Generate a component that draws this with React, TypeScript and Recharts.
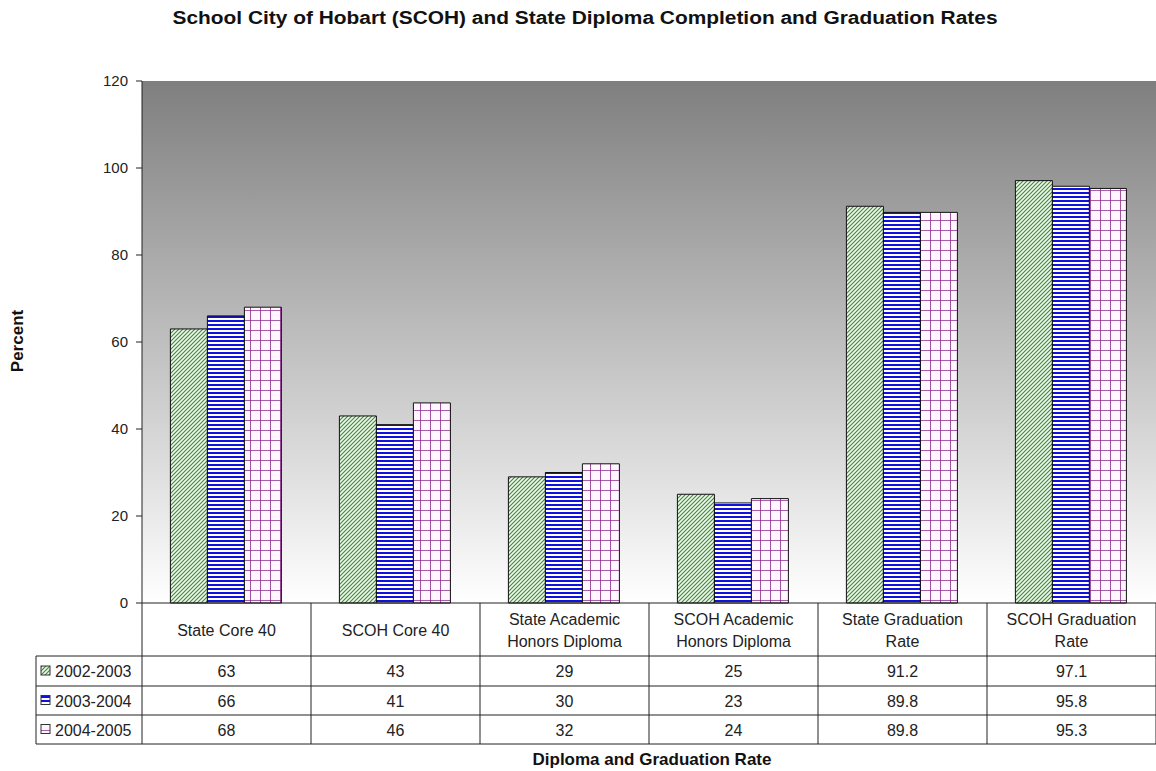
import { BarChart, Bar, XAxis, YAxis, CartesianGrid } from "recharts"

const categories = [
  "State Core 40",
  "SCOH Core 40",
  "State Academic Honors Diploma",
  "SCOH Academic Honors Diploma",
  "State Graduation Rate",
  "SCOH Graduation Rate",
]

// how the header cells wrap
const headerLines = [
  ["State Core 40"],
  ["SCOH Core 40"],
  ["State Academic", "Honors Diploma"],
  ["SCOH Academic", "Honors Diploma"],
  ["State Graduation", "Rate"],
  ["SCOH Graduation", "Rate"],
]

const years = ["2002-2003", "2003-2004", "2004-2005"]
const values2002 = [63, 43, 29, 25, 91.2, 97.1]
const values2003 = [66, 41, 30, 23, 89.8, 95.8]
const values2004 = [68, 46, 32, 24, 89.8, 95.3]
const yTicks = [0, 20, 40, 60, 80, 100, 120]

const seriesValues = [values2002, values2003, values2004]
const seriesFills = ["url(#hatchGreen)", "url(#stripeBlue)", "url(#gridPurple)"]

const data = categories.map((name, i) => ({
  name,
  y2002: values2002[i],
  y2003: values2003[i],
  y2004: values2004[i],
}))

const W = 1156
const H = 771
const plotLeft = 142
const plotTop = 81
const plotBottom = 603
const bandW = (W - plotLeft) / categories.length
const rowLines = [656, 686, 715, 744]
const font = "'Liberation Sans', Arial, sans-serif"
const textColor = "#222"

const TableColumn = (props: any) => {
  const { x, payload, index } = props
  const lines = headerLines[index] || [payload.value]
  const left = x - bandW / 2
  const right = x + bandW / 2
  const headerMid = (plotBottom + rowLines[0]) / 2
  return (
    <g fontFamily={font} fontSize={16} fill={textColor}>
      {lines.map((l: string, k: number) => (
        <text
          key={k}
          x={x}
          y={headerMid + (k - (lines.length - 1) / 2) * 22 + 6}
          textAnchor="middle"
        >
          {l}
        </text>
      ))}
      {rowLines.map((ry) => (
        <line key={ry} x1={left} x2={right} y1={ry} y2={ry} stroke="#222" strokeWidth={1} />
      ))}
      {index === 0 && <line x1={left} x2={left} y1={plotBottom} y2={rowLines[3]} stroke="#222" />}
      <line x1={right} x2={right} y1={plotBottom} y2={rowLines[3]} stroke="#222" />
      {seriesValues.map((vals, r) => (
        <text key={r} x={x} y={(rowLines[r] + rowLines[r + 1]) / 2 + 6} textAnchor="middle">
          {vals[index]}
        </text>
      ))}
    </g>
  )
}

export default function App() {
  return (
    <div style={{ position: "absolute", left: 0, top: 0, background: "#fff" }}>
      <BarChart
        width={W}
        height={H}
        data={data}
        margin={{ top: plotTop, right: 0, bottom: 0, left: 82 }}
        barCategoryGap="16.8%"
        barGap={0}
      >
        <defs>
          <linearGradient id="bgGrad" x1="0" y1="0" x2="0" y2="1">
            <stop offset="0%" stopColor="#7f7f7f" />
            <stop offset="100%" stopColor="#ffffff" />
          </linearGradient>
          <pattern id="hatchGreen" patternUnits="userSpaceOnUse" width="4" height="4">
            <rect width="4" height="4" fill="#eef7ea" />
            <path d="M-1,1 l2,-2 M0,4 l4,-4 M3,5 l2,-2" stroke="#3d8a3d" strokeWidth="1.1" />
          </pattern>
          <pattern id="stripeBlue" patternUnits="userSpaceOnUse" width="4" height="4">
            <rect width="4" height="4" fill="#ffffff" />
            <rect width="4" height="2" fill="#1010e0" />
          </pattern>
          <pattern id="gridPurple" patternUnits="userSpaceOnUse" width="10" height="10">
            <rect width="10" height="10" fill="#fff6ff" />
            <path d="M0,0 V10 M0,0 H10" stroke="#8a2a8a" strokeWidth="1.6" />
          </pattern>
        </defs>
        <CartesianGrid fill="url(#bgGrad)" stroke="none" horizontal={false} vertical={false} />
        <XAxis
          dataKey="name"
          height={H - plotBottom}
          axisLine={{ stroke: "#222" }}
          tickLine={false}
          interval={0}
          tick={<TableColumn />}
        />
        <YAxis
          width={60}
          domain={[0, 120]}
          ticks={yTicks}
          axisLine={{ stroke: "#222" }}
          tickLine={{ stroke: "#222" }}
          tickSize={6}
          tickMargin={8}
          tick={{ fill: textColor, fontSize: 15, fontFamily: font }}
        />
        {["y2002", "y2003", "y2004"].map((k, i) => (
          <Bar
            key={k}
            dataKey={k}
            name={years[i]}
            fill={seriesFills[i]}
            stroke="#111"
            strokeWidth={1}
            isAnimationActive={false}
          />
        ))}
        {/* legend column of the data table */}
        <g fontFamily={font} fontSize={16} fill={textColor}>
          <line x1={36} x2={plotLeft} y1={rowLines[0]} y2={rowLines[0]} stroke="#222" />
          {years.map((yr, r) => {
            const cy = (rowLines[r] + rowLines[r + 1]) / 2
            return (
              <g key={yr}>
                <line x1={36} x2={plotLeft} y1={rowLines[r + 1]} y2={rowLines[r + 1]} stroke="#222" />
                <rect x={41} y={cy - 5} width={9} height={9} fill={seriesFills[r]} stroke="#333" strokeWidth={1} />
                <text x={55} y={cy + 6}>{yr}</text>
              </g>
            )
          })}
          <line x1={36} x2={36} y1={rowLines[0]} y2={rowLines[3]} stroke="#222" />
        </g>
        <text
          x={585}
          y={24}
          textAnchor="middle"
          fontFamily={font}
          fontWeight="bold"
          fontSize={18}
          fill="#111"
          textLength={825}
          lengthAdjust="spacingAndGlyphs"
        >
          School City of Hobart (SCOH) and State Diploma Completion and Graduation Rates
        </text>
        <text
          x={23}
          y={341}
          textAnchor="middle"
          fontFamily={font}
          fontWeight="bold"
          fontSize={17}
          fill="#111"
          transform="rotate(-90 23 341)"
        >
          Percent
        </text>
        <text x={652} y={765} textAnchor="middle" fontFamily={font} fontWeight="bold" fontSize={17} fill="#111">
          Diploma and Graduation Rate
        </text>
      </BarChart>
    </div>
  )
}
